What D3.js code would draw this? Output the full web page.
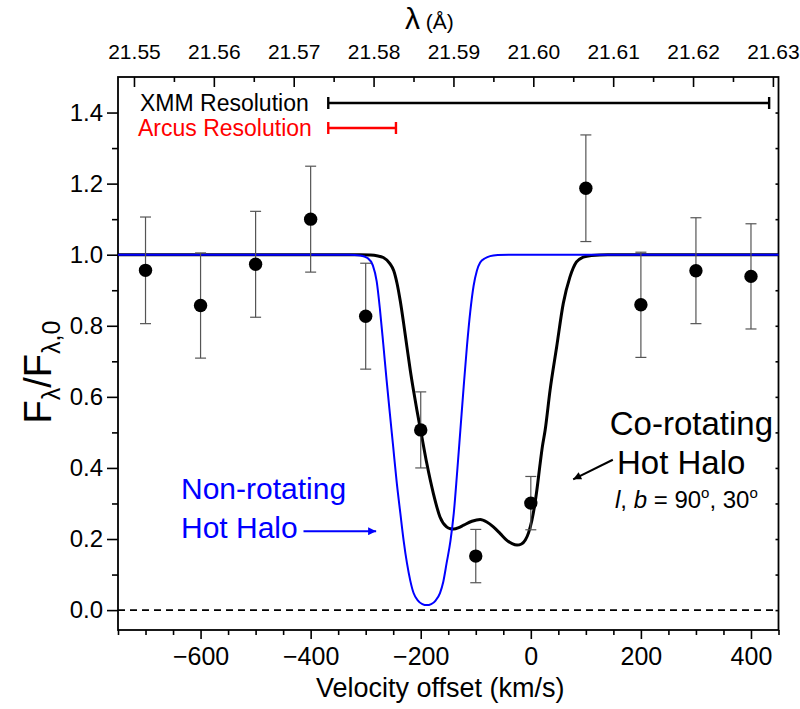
<!DOCTYPE html>
<html><head><meta charset="utf-8">
<script src="https://cdn.jsdelivr.net/npm/d3@7"></script>
<style>
body{margin:0;background:#fff;}
svg text{font-family:Arial,"Liberation Sans",sans-serif;}
</style>
</head><body>
<svg id="c" width="800" height="709"></svg>
<script>
// ---------------- data ----------------
const velocities = [-700,-600,-500,-400,-300,-200,-100,0,100,200,300,400];
const fluxValues = [0.956,0.857,0.973,1.100,0.827,0.507,0.152,0.301,1.187,0.859,0.955,0.939];
const fluxErrors = [0.150,0.148,0.149,0.149,0.149,0.107,0.075,0.075,0.150,0.148,0.149,0.148];

// Non-rotating hot halo model (blue)
const nonRotVel  = [-750,-330,-310,-296,-287,-280,-274,-268,-262,-256,-250,-244,-237,-231,-225,-219,-213,-205,-197,-189,-181,-173,-165,-159,-153,-146,-140,-134,-128,-122,-116,-110,-104,-98,-92,-83,-74,-60,-40,450];
const nonRotFlux = [1.000,1.000,0.998,0.990,0.970,0.925,0.845,0.748,0.647,0.552,0.459,0.365,0.272,0.195,0.132,0.083,0.048,0.027,0.017,0.014,0.017,0.027,0.048,0.080,0.132,0.195,0.272,0.385,0.506,0.628,0.743,0.840,0.912,0.955,0.978,0.990,0.996,0.999,1.000,1.000];

// Co-rotating hot halo model (black)
const coRotVel  = [-750,-310,-292,-280,-268,-256,-249,-243,-237,-231,-225,-219,-213,-207,-198,-189,-177,-165,-153,-146,-140,-131,-122,-107,-92,-80,-68,-56,-44,-34,-25,-17,-10,-4,2,7,11,17,21,26,35,47,59,71,83,95,110,140,450];
const coRotFlux = [1.000,1.000,0.999,0.997,0.992,0.975,0.955,0.919,0.868,0.806,0.740,0.675,0.617,0.563,0.488,0.413,0.328,0.262,0.234,0.229,0.228,0.232,0.239,0.250,0.255,0.248,0.234,0.216,0.197,0.187,0.183,0.186,0.197,0.218,0.253,0.295,0.338,0.413,0.460,0.506,0.619,0.741,0.863,0.937,0.980,0.993,0.998,1.000,1.000];

const xMajorTicks = [-600,-400,-200,0,200,400];
const yMajorTicks = [0.0,0.2,0.4,0.6,0.8,1.0,1.2,1.4];
const topTickLabels = ["21.55","21.56","21.57","21.58","21.59","21.60","21.61","21.62","21.63"];

const xmmResolution   = [-368, 433];   // km/s extent of XMM bar
const arcusResolution = [-368, -245];  // km/s extent of Arcus bar

// ---------------- layout ----------------
const svg = d3.select("#c");
const L = 118, R = 778.5, T = 77, B = 630;
const x = d3.scaleLinear().domain([-750, 450]).range([L, R]);
const y = d3.scaleLinear().domain([-0.056, 1.5]).range([B, T]);
const xTop = d3.scaleLinear().domain([21.548, 21.6307]).range([L, R]);

const font = 'Arial,"Liberation Sans",sans-serif';

// zero dashed line
svg.append("line")
  .attr("x1", L).attr("x2", R).attr("y1", y(0)).attr("y2", y(0))
  .attr("stroke", "#000").attr("stroke-width", 1.6).attr("stroke-dasharray", "7,5");

// ---------------- axes ----------------
function styleAxis(g, fs){
  g.select(".domain").remove();
  g.selectAll(".tick line").attr("stroke", "#000").attr("stroke-width", 1.6);
  g.selectAll(".tick text").attr("fill", "#000").style("font-size", fs + "px").style("font-family", font);
}
// bottom
const xMinor = d3.range(-750, 451, 50).filter(v => !xMajorTicks.includes(v));
svg.append("g").attr("transform", `translate(0,${B})`)
  .call(d3.axisBottom(x).tickValues(xMinor).tickSize(5).tickFormat(""))
  .call(g => styleAxis(g, 10));
svg.append("g").attr("transform", `translate(0,${B})`)
  .call(d3.axisBottom(x).tickValues(xMajorTicks).tickSize(9).tickPadding(8).tickFormat(d3.format("d")))
  .call(g => styleAxis(g, 25));

// left
const yMinor = d3.range(0.1, 1.45, 0.2);
svg.append("g").attr("transform", `translate(${L},0)`)
  .call(d3.axisLeft(y).tickValues(yMinor).tickSize(6).tickFormat(""))
  .call(g => styleAxis(g, 10));
svg.append("g").attr("transform", `translate(${L},0)`)
  .call(d3.axisLeft(y).tickValues(yMajorTicks).tickSize(11).tickPadding(4).tickFormat(d3.format(".1f")))
  .call(g => styleAxis(g, 24));

// right (small inward ticks)
svg.append("g").attr("transform", `translate(${R},0)`)
  .call(d3.axisRight(y).tickValues(d3.range(0, 1.45, 0.1)).tickSize(-3).tickFormat(""))
  .call(g => styleAxis(g, 10));

// top (wavelength)
const topMajor = topTickLabels.map(Number);
const topMinor = topMajor.slice(0, -1).map(v => v + 0.005);
svg.append("g").attr("transform", `translate(0,${T})`)
  .call(d3.axisTop(xTop).tickValues(topMinor).tickSize(-5).tickFormat(""))
  .call(g => styleAxis(g, 10));
svg.append("g").attr("transform", `translate(0,${T})`)
  .call(d3.axisTop(xTop).tickValues(topMajor).tickSize(-10).tickPadding(18).tickFormat((d, i) => topTickLabels[i]))
  .call(g => styleAxis(g, 21));

// frame
svg.append("rect").attr("x", L).attr("y", T).attr("width", R - L).attr("height", B - T)
  .attr("fill", "none").attr("stroke", "#000").attr("stroke-width", 1.8);

// ---------------- model curves ----------------
const line = d3.line().x(d => x(d[0])).y(d => y(d[1])).curve(d3.curveMonotoneX);
svg.append("path").datum(d3.zip(coRotVel, coRotFlux))
  .attr("d", line).attr("fill", "none").attr("stroke", "#000").attr("stroke-width", 3);
svg.append("path").datum(d3.zip(nonRotVel, nonRotFlux))
  .attr("d", line).attr("fill", "none").attr("stroke", "#0000ff").attr("stroke-width", 2);

// ---------------- data points ----------------
const pts = velocities.map((v, i) => ({v, f: fluxValues[i], e: fluxErrors[i]}));
const eg = svg.append("g").attr("stroke", "#555").attr("stroke-width", 1.2);
pts.forEach(p => {
  eg.append("line").attr("x1", x(p.v)).attr("x2", x(p.v)).attr("y1", y(p.f - p.e)).attr("y2", y(p.f + p.e));
  [p.f - p.e, p.f + p.e].forEach(yy => {
    eg.append("line").attr("x1", x(p.v) - 5.5).attr("x2", x(p.v) + 5.5).attr("y1", y(yy)).attr("y2", y(yy));
  });
});
svg.append("g").selectAll("circle").data(pts).join("circle")
  .attr("cx", d => x(d.v)).attr("cy", d => y(d.f)).attr("r", 6.7).attr("fill", "#000");

// ---------------- resolution bars ----------------
function resBar(ext, yy, color){
  const g = svg.append("g").attr("stroke", color).attr("stroke-width", 2.4);
  g.append("line").attr("x1", x(ext[0])).attr("x2", x(ext[1])).attr("y1", yy).attr("y2", yy);
  ext.forEach(v => g.append("line").attr("x1", x(v)).attr("x2", x(v)).attr("y1", yy - 6).attr("y2", yy + 6));
}
resBar(xmmResolution, 103, "#000");
resBar(arcusResolution, 128, "#ff0000");
svg.append("text").attr("x", 140).attr("y", 111).style("font-size", "23px").attr("fill", "#000").text("XMM Resolution");
svg.append("text").attr("x", 138).attr("y", 136).style("font-size", "23px").attr("fill", "#ff0000").text("Arcus Resolution");

// ---------------- annotations ----------------
const defs = svg.append("defs");
function marker(id, color){
  defs.append("marker").attr("id", id).attr("viewBox", "0 0 10 10").attr("refX", 10).attr("refY", 5)
    .attr("markerWidth", 16).attr("markerHeight", 8).attr("markerUnits", "userSpaceOnUse").attr("orient", "auto")
    .append("path").attr("d", "M0,0 L10,5 L0,10 z").attr("fill", color);
}
marker("ab", "#0000ff"); marker("ak", "#000");

// blue arrow (data coords)
svg.append("line").attr("x1", x(-413)).attr("y1", y(0.222)).attr("x2", x(-281)).attr("y2", y(0.222))
  .attr("stroke", "#0000ff").attr("stroke-width", 2).attr("marker-end", "url(#ab)");
// black arrow
svg.append("line").attr("x1", x(149)).attr("y1", y(0.423)).attr("x2", x(77)).attr("y2", y(0.368))
  .attr("stroke", "#000").attr("stroke-width", 2).attr("marker-end", "url(#ak)");

svg.append("text").attr("x", 181).attr("y", 499).style("font-size", "30px").attr("fill", "#0000ff").text("Non-rotating");
svg.append("text").attr("x", 181).attr("y", 538).style("font-size", "30px").attr("fill", "#0000ff").text("Hot Halo");

svg.append("text").attr("x", 773).attr("y", 435).attr("text-anchor", "end").style("font-size", "33px").attr("fill", "#000").text("Co-rotating");
svg.append("text").attr("x", 617).attr("y", 474).style("font-size", "33px").attr("fill", "#000").text("Hot Halo");
const lb = svg.append("text").attr("x", 615).attr("y", 508).style("font-size", "24px").attr("fill", "#000");
lb.append("tspan").style("font-style", "italic").text("l");
lb.append("tspan").text(", ");
lb.append("tspan").style("font-style", "italic").text("b");
lb.append("tspan").text(" = 90");
lb.append("tspan").attr("dy", -10).style("font-size", "15px").text("o");
lb.append("tspan").attr("dy", 10).text(", 30");
lb.append("tspan").attr("dy", -10).style("font-size", "15px").text("o");

// top title
const tt = svg.append("text").attr("x", 405).attr("y", 29).attr("fill", "#000");
tt.append("tspan").style("font-size", "30px").text("λ");
tt.append("tspan").style("font-size", "21px").text(" (Å)");

// bottom title
svg.append("text").attr("x", (L + R) / 2 - 8).attr("y", 697).attr("text-anchor", "middle")
  .style("font-size", "27px").attr("fill", "#000").text("Velocity offset (km/s)");

// y title
const yt = svg.append("text").attr("transform", "translate(51,372) rotate(-90)").attr("text-anchor", "middle").attr("fill", "#000");
yt.append("tspan").style("font-size", "38px").text("F");
yt.append("tspan").attr("dy", 9).style("font-size", "25px").text("λ");
yt.append("tspan").attr("dy", -9).style("font-size", "38px").text("/F");
yt.append("tspan").attr("dy", 9).style("font-size", "25px").text("λ,0");
</script>
</body></html>
